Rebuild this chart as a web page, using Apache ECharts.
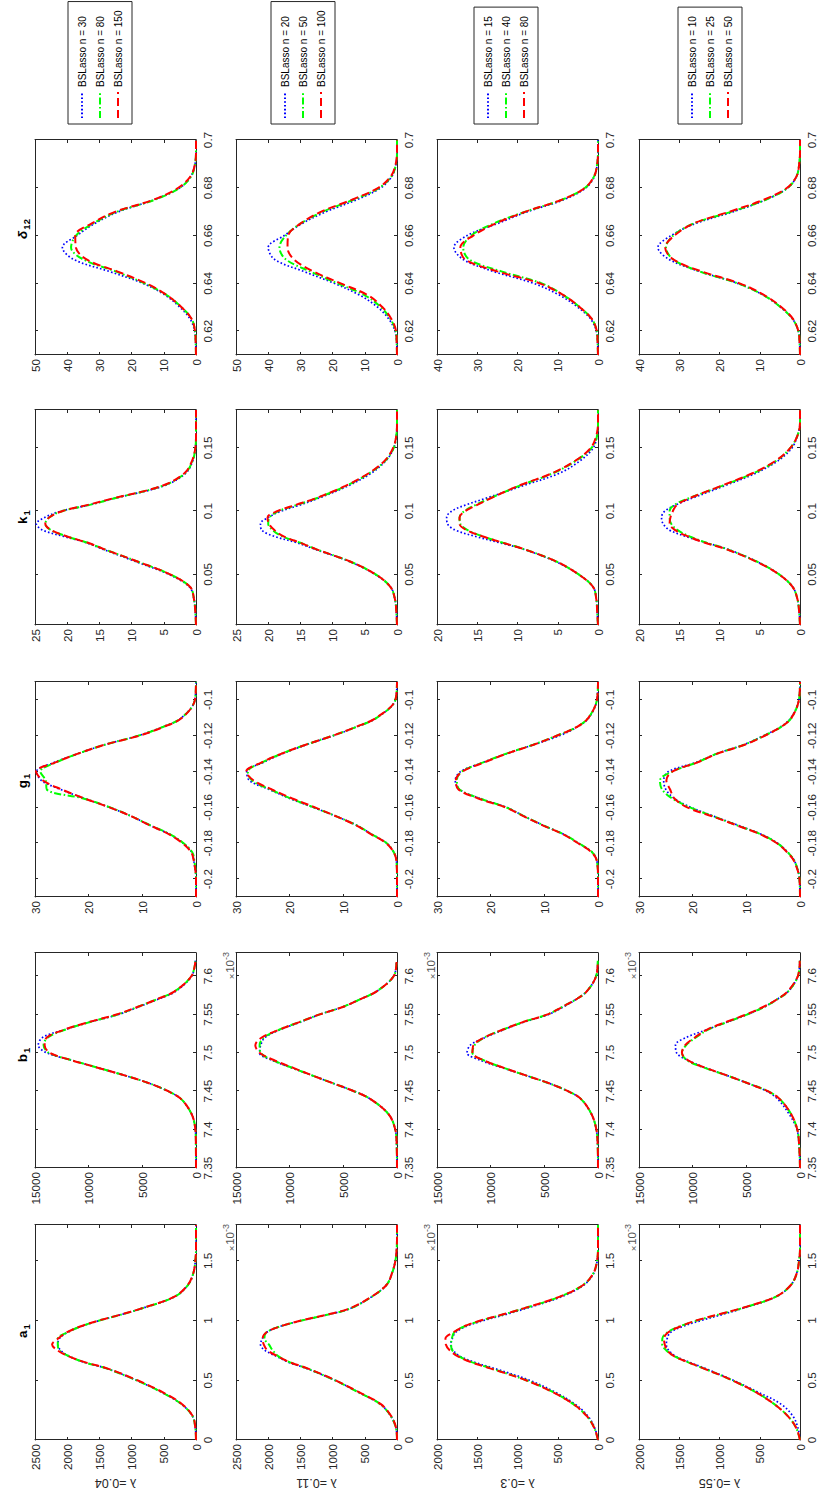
<!DOCTYPE html>
<html>
<head>
<meta charset="utf-8">
<script src="https://cdn.jsdelivr.net/npm/echarts@6/dist/echarts.min.js"></script>
<style>
html,body{margin:0;padding:0;background:#fff;width:820px;height:1497px;overflow:hidden;}
#chart{position:absolute;left:0;top:0;width:1497px;height:820px;transform-origin:0 0;transform:translateY(1497px) rotate(-90deg);background:#fff;}
</style>
</head>
<body>
<div id="chart"></div>
<script>
// ================= DATA =================
const lambdaLabels = ['λ =0.04', 'λ =0.11', 'λ =0.3', 'λ =0.55'];
const sampleSizes = [[30, 80, 150], [20, 50, 100], [15, 40, 80], [10, 25, 50]];

// parameter grids (a1 and b1 in units of 1e-3)
const gridA1 = [0, 0.1, 0.2, 0.3, 0.4, 0.5, 0.6, 0.65, 0.7, 0.75, 0.8, 0.85, 0.9, 0.95, 1.0, 1.05, 1.1, 1.2, 1.3, 1.4, 1.5, 1.6, 1.7, 1.8];
const gridB1 = [7.35, 7.38, 7.40, 7.42, 7.44, 7.45, 7.46, 7.47, 7.48, 7.49, 7.50, 7.51, 7.52, 7.53, 7.54, 7.55, 7.56, 7.57, 7.58, 7.60, 7.62];
const gridG1 = [-0.21, -0.2, -0.19, -0.185, -0.18, -0.175, -0.17, -0.165, -0.16, -0.155, -0.15, -0.145, -0.14, -0.135, -0.13, -0.125, -0.12, -0.115, -0.11, -0.1, -0.09];
const gridK1 = [0.01, 0.02, 0.03, 0.04, 0.05, 0.06, 0.07, 0.075, 0.08, 0.085, 0.09, 0.095, 0.10, 0.105, 0.11, 0.12, 0.13, 0.14, 0.15, 0.16, 0.17, 0.18];
const gridD12 = [0.61, 0.615, 0.62, 0.625, 0.63, 0.635, 0.64, 0.645, 0.65, 0.655, 0.66, 0.665, 0.67, 0.675, 0.68, 0.685, 0.69, 0.695, 0.70];

// tick labels
const xTicksA1 = [0, 0.5, 1, 1.5];
const xTicksB1 = [7.35, 7.4, 7.45, 7.5, 7.55, 7.6];
const xTicksG1 = [-0.2, -0.18, -0.16, -0.14, -0.12, -0.1];
const xTicksK1 = [0.05, 0.1, 0.15];
const xTicksD12 = [0.62, 0.64, 0.66, 0.68, 0.7];
const yTicksA1Hi = [0, 500, 1000, 1500, 2000, 2500];
const yTicksA1Lo = [0, 500, 1000, 1500, 2000];
const yTicksB1 = [0, 5000, 10000, 15000];
const yTicksG1 = [0, 10, 20, 30];
const yTicksK1Hi = [0, 5, 10, 15, 20, 25];
const yTicksK1Lo = [0, 5, 10, 15, 20];
const yTicksD12Hi = [0, 10, 20, 30, 40, 50];
const yTicksD12Lo = [0, 10, 20, 30, 40];

// densities: r = lambda row, s1/s2/s3 = small/medium/large n
const a1_r1_s1 = [0,10,55,225,535,925,1395,1730,1965,2100,2146,2120,2000,1790,1500,1160,850,330,120,40,10,0,0,0];
const a1_r1_s2 = [0,10,55,225,535,925,1395,1730,1965,2120,2146,2146,2000,1790,1500,1160,850,330,120,40,10,0,0,0];
const a1_r1_s3 = [0,10,50,215,520,910,1380,1720,1975,2150,2235,2140,2010,1800,1510,1170,860,335,125,40,10,0,0,0];
const a1_r2_s1 = [0,16,95,260,600,965,1410,1680,1870,2050,2120,2090,2030,1820,1480,1070,730,390,160,75,25,5,0,0];
const a1_r2_s2 = [0,16,95,260,600,965,1400,1660,1840,1930,1990,2060,2030,1820,1480,1070,730,390,160,75,25,5,0,0];
const a1_r2_s3 = [0,14,90,250,590,955,1390,1660,1850,2010,2070,2085,2030,1820,1490,1080,740,395,160,75,25,5,0,0];
const a1_r3_s1 = [0,40,125,285,530,850,1290,1530,1710,1800,1830,1810,1770,1640,1420,1150,900,450,170,50,10,0,0,0];
const a1_r3_s2 = [0,45,138,305,555,890,1330,1560,1725,1810,1825,1815,1787,1662,1453,1182,931,472,180,54,12,0,0,0];
const a1_r3_s3 = [0,45,138,305,560,895,1340,1570,1740,1840,1890,1895,1800,1670,1460,1190,935,475,180,54,12,0,0,0];
const a1_r4_s1 = [0,25,88,235,520,830,1180,1370,1540,1630,1660,1650,1610,1460,1230,970,720,295,110,40,12,0,0,0];
const a1_r4_s2 = [0,46,151,319,549,843,1199,1388,1556,1660,1712,1710,1650,1500,1283,1010,738,298,109,38,12,0,0,0];
const a1_r4_s3 = [0,46,151,319,549,843,1199,1388,1560,1650,1680,1690,1640,1490,1290,1020,745,300,110,38,12,0,0,0];

const b1_r1_s1 = [0,10,60,400,1400,2600,4300,6500,9000,11500,13900,14700,14300,12300,9900,7200,5300,3500,1900,400,50];
const b1_r1_s2 = [0,10,60,400,1400,2600,4300,6500,9000,11500,13700,14200,13800,12200,9900,7300,5400,3600,2000,420,50];
const b1_r1_s3 = [0,10,60,400,1400,2600,4300,6500,9000,11500,13600,14100,13900,12300,10000,7400,5400,3600,2000,420,50];
const b1_r2_s1 = [0,30,160,780,2500,4000,5900,7800,9700,11600,12800,12700,12300,10900,9000,7200,5000,3400,1900,300,40];
const b1_r2_s2 = [0,30,160,780,2500,4000,5900,7800,9700,11500,12700,12800,12400,11000,9100,7200,5000,3400,1900,300,40];
const b1_r2_s3 = [0,30,160,780,2500,4000,5900,7800,9600,11400,12800,13200,12600,11000,9100,7200,5000,3400,1900,300,40];
const b1_r3_s1 = [0,30,150,600,1600,2800,4500,6600,8800,10900,12200,11900,10500,8800,6900,4600,3200,2000,1050,170,20];
const b1_r3_s2 = [0,30,150,600,1600,2800,4500,6600,8700,10600,11700,11500,10600,8900,7000,4700,3300,2000,1050,170,20];
const b1_r3_s3 = [0,30,150,600,1600,2800,4500,6600,8700,10600,11700,11600,10600,8900,7000,4700,3300,2000,1050,170,20];
const b1_r4_s1 = [0,90,280,1000,2100,3100,4800,6700,8700,10400,11500,11600,10600,8700,6800,4900,3300,2100,1100,190,20];
const b1_r4_s2 = [0,80,250,820,1900,3000,4800,6700,8800,10500,11000,10600,9700,8600,6800,4900,3300,2100,1100,190,20];
const b1_r4_s3 = [0,80,250,820,1900,3000,4800,6700,8700,10400,11000,10700,9800,8700,6900,5000,3400,2100,1150,200,20];

const g1_r1_s1 = [0,0,0.4,0.8,2.4,4.9,8.6,12,16.1,20.8,25.2,28.8,29.7,26.5,22,17,10.8,6.1,2.7,0.2,0];
const g1_r1_s2 = [0,0,0.3,0.7,2.3,4.8,8.5,12,16,21,27.8,28,29,26.2,22,17,10.8,6.1,2.7,0.2,0];
const g1_r1_s3 = [0,0,0.4,0.9,2.5,5,8.6,12,16.1,20.8,25,28.5,29.8,26.3,22,17,10.6,6,2.6,0.2,0];
const g1_r2_s1 = [0,0,0.1,0.6,1.9,4.7,7.5,11.3,15.6,20,23.8,27.5,28,25,21.3,16.9,11.9,7.5,3.8,0.3,0];
const g1_r2_s2 = [0,0,0.1,0.6,1.9,4.7,7.5,11.3,15.5,19.8,23.6,27,27.8,25.2,21.5,17,12,7.5,3.8,0.3,0];
const g1_r2_s3 = [0,0,0.1,0.6,2,4.8,7.6,11.3,15.3,19.5,23.3,26.7,28.1,25.3,21.5,17,12,7.6,3.9,0.3,0];
const g1_r3_s1 = [0,0,0.2,1.1,3.6,6.4,10.2,13.7,17,22,25.8,26.6,25.6,21.5,17,12,7.2,3.8,1.7,0.2,0];
const g1_r3_s2 = [0,0,0.2,1.1,3.6,6.4,10.2,13.7,17.1,22,25.8,26.3,25.4,21.5,17.1,12.1,7.7,3.9,1.8,0.2,0];
const g1_r3_s3 = [0,0,0.2,1.2,3.7,6.5,10.3,13.8,17.2,22.3,26,26.5,25.3,21.3,17,12,7.7,3.9,1.8,0.2,0];
const g1_r4_s1 = [0,0.1,1,2.3,4.2,7.2,11.5,16,20.3,23.4,25,25.4,24.5,19.5,15.5,10.5,6.8,3.6,1.7,0.2,0];
const g1_r4_s2 = [0,0.1,1,2.3,4.2,7.3,11.7,16.1,20.5,23.8,25.7,26.1,23.8,19.3,15.5,10.4,6.7,3.5,1.6,0.2,0];
const g1_r4_s3 = [0,0.1,1.1,2.4,4.3,7.4,11.8,16.3,21,23.4,24.2,24.9,23.8,19.2,15.4,10.3,6.6,3.5,1.6,0.2,0];

const k1_r1_s1 = [0,0.1,0.3,1,4.2,9.3,14.5,17,20.5,23.8,24.8,23.5,21,16.5,12.8,5,1.6,0.5,0.1,0,0,0];
const k1_r1_s2 = [0,0.1,0.3,0.9,4,9,14.3,16.8,20,22.5,23.4,22.8,20.8,16.5,12.8,5.2,1.7,0.5,0.1,0,0,0];
const k1_r1_s3 = [0,0.1,0.3,0.9,4,9,14.3,16.8,20,22.5,23.4,22.8,20.8,16.8,13,5.3,1.8,0.6,0.1,0,0,0];
const k1_r2_s1 = [0,0.1,0.3,1,3.4,7.3,12.8,15.5,19,21,21.2,20,18,15,12.3,7.6,4,1.7,0.5,0.1,0,0];
const k1_r2_s2 = [0,0.1,0.3,1,3.3,7.2,12.6,15,17.8,19.3,20,19.8,18.4,15.5,12.6,7.9,4.3,1.8,0.5,0.1,0,0];
const k1_r2_s3 = [0,0.1,0.3,1,3.3,7.2,12.6,15,17.6,19,19.9,20.1,18.6,15.7,12.7,8,4.4,1.9,0.6,0.1,0,0];
const k1_r3_s1 = [0,0.1,0.2,0.6,2.4,5.2,9.3,12.2,15.2,17.7,18.7,18.8,18.2,16.4,14,9.4,4.8,2.2,0.6,0.1,0,0];
const k1_r3_s2 = [0,0.1,0.2,0.6,2.4,5.1,9.2,11.8,14.3,16.2,17.1,17.2,16.6,15.2,13.5,9.8,5.6,2.7,0.8,0.1,0,0];
const k1_r3_s3 = [0,0.1,0.2,0.6,2.4,5.1,9.2,11.8,14.3,16.3,17.2,17.2,16.5,15,13.4,9.9,5.7,2.8,0.9,0.2,0,0];
const k1_r4_s1 = [0,0.1,0.3,0.9,2.6,5.3,9,11.6,14.2,16.2,17,17.2,16.8,15.4,13.5,9.4,5.5,2.7,1,0.3,0,0];
const k1_r4_s2 = [0,0.1,0.3,0.9,2.6,5.3,9.1,11.6,13.7,15.2,16,16.2,16.2,15.6,13.9,9.7,5.8,2.9,1.2,0.3,0,0];
const k1_r4_s3 = [0,0.1,0.3,0.9,2.6,5.4,9.2,11.8,13.9,15.5,16.2,16.1,15.8,15.3,13.8,9.8,5.9,3,1.2,0.3,0,0];

const d12_r1_s1 = [0,0.1,0.4,1.8,5,9.5,16.5,27,38,41.5,37,31.5,24,13,5,1.5,0.3,0,0];
const d12_r1_s2 = [0,0.1,0.3,1.3,4.5,9,16,25,35,38.8,37.3,32,24.5,12.8,5,1.4,0.3,0,0];
const d12_r1_s3 = [0,0.1,0.3,1.3,4.5,9,15.5,24.5,34,37.3,37.5,32.5,25,13.2,5.5,1.6,0.3,0,0];
const d12_r2_s1 = [0,0.1,0.6,2.5,6,11.5,19.5,29,38,40,35,29.5,22,12.5,5,1.5,0.3,0,0];
const d12_r2_s2 = [0,0.1,0.4,2,5,10,18.5,27,34.5,36.5,34.5,30,23,13.5,5.5,1.6,0.3,0,0];
const d12_r2_s3 = [0,0.1,0.3,1.7,4.5,9,17.5,26,32,34,33.8,30,23.5,14,5.8,1.8,0.4,0,0];
const d12_r3_s1 = [0,0.1,0.4,1.8,5,9.5,16,26,33.5,35.8,32.5,25,17.5,8.5,3,0.8,0.2,0,0];
const d12_r3_s2 = [0,0.1,0.3,1.5,4.5,8.5,14,24,32,33.5,31.5,26,18,9,3.2,0.9,0.2,0,0];
const d12_r3_s3 = [0,0.1,0.3,1.5,4.5,8.5,14.5,25,33,34.2,31,25.5,18,9,3.2,0.9,0.2,0,0];
const d12_r4_s1 = [0,0.1,0.4,1.8,4.8,9,15.5,25,32.5,35.3,32,26,16.5,8.5,3,0.8,0.2,0,0];
const d12_r4_s2 = [0,0.1,0.4,1.8,4.8,9,15.5,25,31.5,33.3,31.5,26.5,17,8.5,3,0.8,0.2,0,0];
const d12_r4_s3 = [0,0.1,0.4,1.7,4.6,8.8,15,24.5,31.5,33.5,31.2,26.5,17.5,9,3.2,0.8,0.2,0,0];

// ================= TABLES BUILT FROM DATA =================
const cols = [
  { main: 'a', sub: '1', italic: false, grid: gridA1, xMin: 0, xMax: 1.8, xTicks: xTicksA1, yTicks: [yTicksA1Hi, yTicksA1Hi, yTicksA1Lo, yTicksA1Lo], expo: true,
    dens: [[a1_r1_s1, a1_r1_s2, a1_r1_s3], [a1_r2_s1, a1_r2_s2, a1_r2_s3], [a1_r3_s1, a1_r3_s2, a1_r3_s3], [a1_r4_s1, a1_r4_s2, a1_r4_s3]] },
  { main: 'b', sub: '1', italic: false, grid: gridB1, xMin: 7.35, xMax: 7.63, xTicks: xTicksB1, yTicks: [yTicksB1, yTicksB1, yTicksB1, yTicksB1], expo: true,
    dens: [[b1_r1_s1, b1_r1_s2, b1_r1_s3], [b1_r2_s1, b1_r2_s2, b1_r2_s3], [b1_r3_s1, b1_r3_s2, b1_r3_s3], [b1_r4_s1, b1_r4_s2, b1_r4_s3]] },
  { main: 'g', sub: '1', italic: false, grid: gridG1, xMin: -0.21, xMax: -0.09, xTicks: xTicksG1, yTicks: [yTicksG1, yTicksG1, yTicksG1, yTicksG1], expo: false,
    dens: [[g1_r1_s1, g1_r1_s2, g1_r1_s3], [g1_r2_s1, g1_r2_s2, g1_r2_s3], [g1_r3_s1, g1_r3_s2, g1_r3_s3], [g1_r4_s1, g1_r4_s2, g1_r4_s3]] },
  { main: 'k', sub: '1', italic: false, grid: gridK1, xMin: 0.01, xMax: 0.18, xTicks: xTicksK1, yTicks: [yTicksK1Hi, yTicksK1Hi, yTicksK1Lo, yTicksK1Lo], expo: false,
    dens: [[k1_r1_s1, k1_r1_s2, k1_r1_s3], [k1_r2_s1, k1_r2_s2, k1_r2_s3], [k1_r3_s1, k1_r3_s2, k1_r3_s3], [k1_r4_s1, k1_r4_s2, k1_r4_s3]] },
  { main: 'δ', sub: '12', italic: true, grid: gridD12, xMin: 0.61, xMax: 0.70, xTicks: xTicksD12, yTicks: [yTicksD12Hi, yTicksD12Hi, yTicksD12Lo, yTicksD12Lo], expo: false,
    dens: [[d12_r1_s1, d12_r1_s2, d12_r1_s3], [d12_r2_s1, d12_r2_s2, d12_r2_s3], [d12_r3_s1, d12_r3_s2, d12_r3_s3], [d12_r4_s1, d12_r4_s2, d12_r4_s3]] }
];

// ================= LAYOUT (figure coordinates before rotation) =================
const colLeft = [57, 329, 600, 872, 1142];
const colW = 215;
const rowTop = [35, 236, 437, 639];
const rowH = 161;
const titleX = [166, 442, 716, 980, 1268];
const legendTop = [68, 271, 474, 678];
const AX = '#262626';
const FONT = "'Liberation Sans', Arial, Helvetica, sans-serif";
const lineStyles = [
  { color: '#0000ff', width: 1.7, type: [1.6, 2.2], cap: 'butt' },
  { color: '#00ff00', width: 2, type: [7, 2.5, 1.6, 2.5], cap: 'butt' },
  { color: '#ff0000', width: 2, type: [8, 4], cap: 'butt' }
];

const grids = [], xAxes = [], yAxes = [], series = [], graphics = [], legends = [];
const legendText = {};
const fmt = v => String(v);

for (let r = 0; r < 4; r++) {
  for (let s = 0; s < 3; s++) legendText['L' + r + '_' + s] = 'BSLasso n = ' + sampleSizes[r][s];
  for (let c = 0; c < 5; c++) {
    const col = cols[c];
    const gi = grids.length;
    grids.push({ left: colLeft[c], top: rowTop[r], width: colW, height: rowH, containLabel: false, outerBoundsMode: 'none', show: false });
    const yt = col.yTicks[r];
    const yMax = yt[yt.length - 1];
    const line = { show: true, onZero: false, lineStyle: { color: AX, width: 1 } };
    const tick = vals => ({ show: true, inside: true, length: 3, customValues: vals, lineStyle: { color: AX, width: 1 } });
    const lab = (vals, margin) => ({ show: true, customValues: vals, formatter: fmt, margin: margin, fontSize: 11.7, color: AX, fontFamily: FONT });
    xAxes.push({ type: 'value', gridIndex: gi, position: 'bottom', min: col.xMin, max: col.xMax, axisLine: line, axisTick: tick(col.xTicks), axisLabel: lab(col.xTicks, 5), splitLine: { show: false } });
    xAxes.push({ type: 'value', gridIndex: gi, position: 'top', min: col.xMin, max: col.xMax, axisLine: line, axisTick: tick(col.xTicks), axisLabel: { show: false }, splitLine: { show: false } });
    const yMain = { type: 'value', gridIndex: gi, position: 'left', min: 0, max: yMax, axisLine: line, axisTick: tick(yt), axisLabel: lab(yt, 4), splitLine: { show: false } };
    if (c === 0) {
      Object.assign(yMain, { name: lambdaLabels[r], nameLocation: 'middle', nameRotate: 90, nameGap: 36,
        nameTextStyle: { fontSize: 12.5, color: AX, fontFamily: FONT } });
    }
    yAxes.push(yMain);
    yAxes.push({ type: 'value', gridIndex: gi, position: 'right', min: 0, max: yMax, axisLine: line, axisTick: tick(yt), axisLabel: { show: false }, splitLine: { show: false } });
    for (let s = 0; s < 3; s++) {
      const vals = col.dens[r][s];
      series.push({
        type: 'line', name: 'L' + r + '_' + s, xAxisIndex: 2 * gi, yAxisIndex: 2 * gi,
        data: col.grid.map((x, i) => [x, vals[i]]),
        symbol: 'none', showSymbol: false, smooth: 0.35, clip: true, silent: true,
        lineStyle: lineStyles[s], itemStyle: { color: lineStyles[s].color }, animation: false
      });
    }
    if (col.expo && r < 3) {
      graphics.push({ type: 'text', x: colLeft[c] + colW + 1, y: rowTop[r] + rowH + 34, silent: true,
        style: { text: '{x|×}{a|10}{b|-3}', align: 'right', verticalAlign: 'middle', textAlign: 'right', textVerticalAlign: 'middle', fill: '#555',
          rich: { x: { fontSize: 9.5, fontFamily: FONT, fill: '#555', padding: [2, 1, 0, 0] },
                  a: { fontSize: 11.5, fontFamily: FONT, fill: '#555' },
                  b: { fontSize: 9, fontFamily: FONT, fill: '#555', padding: [0, 0, 8, 0] } } } });
    }
    if (r === 0) {
      graphics.push({ type: 'text', x: titleX[c], y: 22, silent: true,
        style: { text: '{m|' + col.main + '}{s|' + col.sub + '}', align: 'center', verticalAlign: 'middle', textAlign: 'center', textVerticalAlign: 'middle', fill: '#000',
          rich: { m: { fontSize: 13.5, fontWeight: 'bold', fontStyle: col.italic ? 'italic' : 'normal', fontFamily: FONT, fill: '#000' },
                  s: { fontSize: 9.5, fontWeight: 'bold', fontFamily: FONT, fill: '#000', padding: [8, 0, 0, 1] } } } });
    }
  }
  legends.push({
    orient: 'vertical', left: 1373, top: legendTop[r],
    data: [0, 1, 2].map(s => 'L' + r + '_' + s),
    formatter: name => legendText[name],
    itemWidth: 26, itemHeight: 10, itemGap: 6,
    padding: [8, 9, 8, 5],
    borderColor: AX, borderWidth: 1, borderRadius: 0, backgroundColor: '#fff',
    textStyle: { fontSize: 10, lineHeight: 12, color: '#000', fontFamily: FONT },
    itemStyle: { opacity: 0, borderWidth: 0 },
    selectedMode: false
  });
}

const chart = echarts.init(document.getElementById('chart'), null, { renderer: 'svg' });
chart.setOption({
  animation: false,
  backgroundColor: '#fff',
  grid: grids,
  xAxis: xAxes,
  yAxis: yAxes,
  series: series,
  legend: legends,
  graphic: graphics,
  tooltip: { show: false }
});
</script>
</body>
</html>
